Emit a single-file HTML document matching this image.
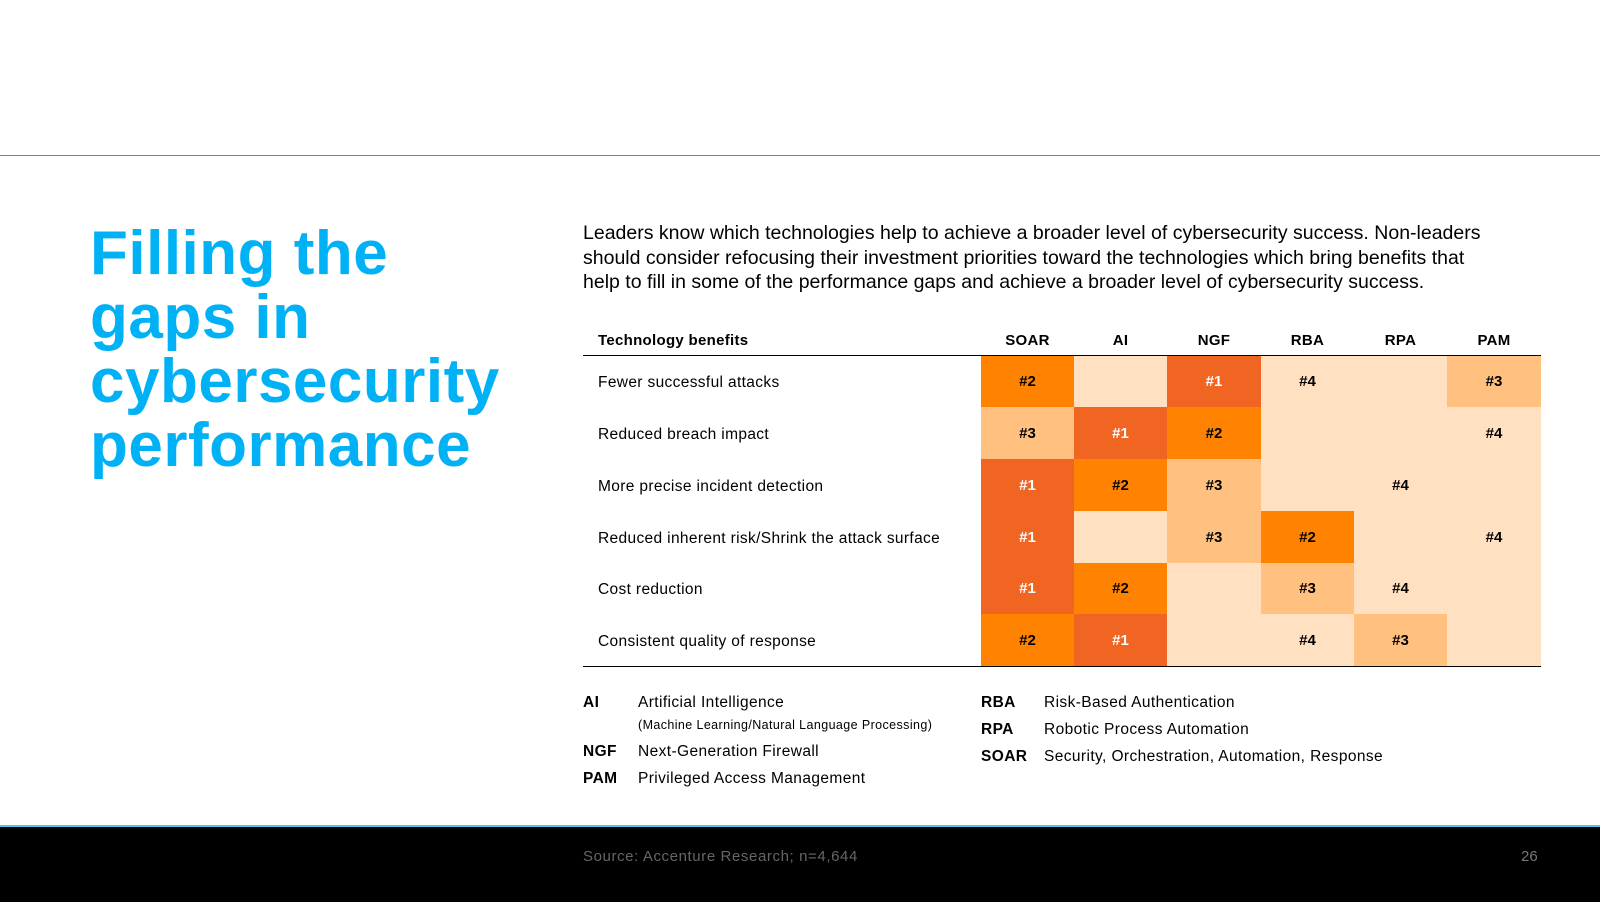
<!DOCTYPE html>
<html><head><meta charset="utf-8">
<style>
body{margin:0;width:1600px;height:900px;position:relative;background:#fff;font-family:"Liberation Sans",sans-serif;overflow:hidden}
.abs{position:absolute}
#title{left:90px;top:222px;color:#00B2F5;font-weight:bold;font-size:62px;line-height:64px;letter-spacing:0.5px}
#para{left:583px;top:221px;font-size:19.5px;line-height:24.5px;color:#000;white-space:nowrap}
.hdr{font-weight:bold;font-size:15px;top:332px;letter-spacing:0.3px}
.lbl{font-size:15.5px;left:598px;letter-spacing:0.35px;padding-top:3px;box-sizing:border-box}
.cell{position:absolute;font-weight:bold;font-size:15px;display:flex;align-items:center;justify-content:center}
.lg{font-size:15.5px;letter-spacing:0.4px}
.ab{font-weight:bold}
</style></head><body>
<div class="abs" style="left:0;top:155px;width:1600px;height:1px;background:#00A8E0"></div>
<div id="title" class="abs">Filling the<br>gaps in<br>cybersecurity<br>performance</div>
<div id="para" class="abs">Leaders know which technologies help to achieve a broader level of cybersecurity success. Non-leaders<br>should consider refocusing their investment priorities toward the technologies which bring benefits that<br>help to fill in some of the performance gaps and achieve a broader level of cybersecurity success.</div>
<div id="table"></div>
<div class="abs lg" style="left:0;top:0">
<div class="abs ab" style="left:583px;top:694px">AI</div><div class="abs" style="left:638px;top:694px;white-space:nowrap">Artificial Intelligence</div>
<div class="abs" style="left:638px;top:718px;font-size:12.5px;white-space:nowrap">(Machine Learning/Natural Language Processing)</div>
<div class="abs ab" style="left:583px;top:743px">NGF</div><div class="abs" style="left:638px;top:743px;white-space:nowrap">Next-Generation Firewall</div>
<div class="abs ab" style="left:583px;top:770px">PAM</div><div class="abs" style="left:638px;top:770px;white-space:nowrap">Privileged Access Management</div>
<div class="abs ab" style="left:981px;top:694px">RBA</div><div class="abs" style="left:1044px;top:694px;white-space:nowrap">Risk-Based Authentication</div>
<div class="abs ab" style="left:981px;top:721px">RPA</div><div class="abs" style="left:1044px;top:721px;white-space:nowrap">Robotic Process Automation</div>
<div class="abs ab" style="left:981px;top:748px">SOAR</div><div class="abs" style="left:1044px;top:748px;white-space:nowrap">Security, Orchestration, Automation, Response</div>
</div>
<div class="abs" style="left:0;top:825px;width:1600px;height:75px;background:#000;border-top:2px solid #4FC8E8"></div>
<div class="abs" style="left:583px;top:848px;color:#666;font-size:15px;letter-spacing:0.6px">Source: Accenture Research; n=4,644</div>
<div class="abs" style="left:1521px;top:848px;color:#777;font-size:15px">26</div>
<script>
const columns=["SOAR","AI","NGF","RBA","RPA","PAM"];
const rows=["Fewer successful attacks","Reduced breach impact","More precise incident detection","Reduced inherent risk/Shrink the attack surface","Cost reduction","Consistent quality of response"];
const ranks=[
[2,0,1,4,0,3],
[3,1,2,0,0,4],
[1,2,3,0,4,0],
[1,0,3,2,0,4],
[1,2,0,3,4,0],
[2,1,0,4,3,0]];
const colX=[981,1074,1167,1261,1354,1447,1541];
const rowY=[356,407,459,511,563,614,666];
const fills={0:"#FFE0C0",1:"#F06522",2:"#FF8200",3:"#FFC080",4:"#FFE0C0"};
const t=document.getElementById('table');
function add(html,cls,style,name){const d=document.createElement('div');d.className=cls;d.style.cssText=style;d.textContent=html;


t.appendChild(d);return d;}
add("Technology benefits","abs hdr","left:598px","header-technology-benefits");
columns.forEach((c,i)=>{add(c,"abs hdr",`left:${colX[i]}px;width:${colX[i+1]-colX[i]}px;text-align:center`,"column-header-"+c.toLowerCase());});
add("","abs","left:583px;top:355px;width:958px;height:1px;background:#000","header-rule");
rows.forEach((r,ri)=>{
  const y0=rowY[ri],y1=rowY[ri+1];
  add(r,"abs lbl",`top:${y0}px;height:${y1-y0}px;line-height:${y1-y0-3}px;white-space:nowrap`,"row-label");
  columns.forEach((c,ci)=>{
    const v=ranks[ri][ci];
    const d=add(v?"#"+v:"","cell",`left:${colX[ci]}px;top:${y0}px;width:${colX[ci+1]-colX[ci]}px;height:${y1-y0}px;background:${fills[v]};color:${v==1?"#fff":"#000"}`,"heatmap-cell");
  });
});
add("","abs","left:583px;top:666px;width:958px;height:1px;background:#000","bottom-rule");
</script>
</body></html>
